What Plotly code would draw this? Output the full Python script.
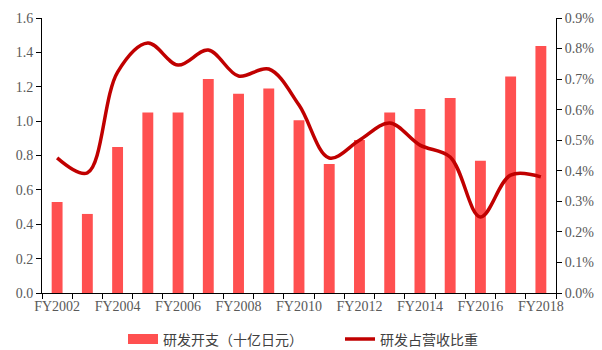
import plotly.graph_objects as go

years = ["FY2002", "FY2003", "FY2004", "FY2005", "FY2006", "FY2007", "FY2008", "FY2009",
         "FY2010", "FY2011", "FY2012", "FY2013", "FY2014", "FY2015", "FY2016", "FY2017", "FY2018"]
rd_spend = [0.53, 0.46, 0.85, 1.05, 1.05, 1.245, 1.16, 1.19,
            1.005, 0.75, 0.89, 1.05, 1.07, 1.135, 0.77, 1.26, 1.437]
rd_ratio = [0.442, 0.393, 0.723, 0.818, 0.746, 0.795, 0.71, 0.733,
            0.615, 0.442, 0.50, 0.556, 0.484, 0.445, 0.249, 0.386, 0.38]
left_ticks = [0.0, 0.2, 0.4, 0.6, 0.8, 1.0, 1.2, 1.4, 1.6]
right_ticks = [0.0, 0.1, 0.2, 0.3, 0.4, 0.5, 0.6, 0.7, 0.8, 0.9]

BAR_COLOR = "#FF5050"
LINE_COLOR = "#C00000"
tick_font = dict(family="Liberation Serif", size=14, color="#595959")

fig = go.Figure()
fig.add_trace(go.Bar(
    x=years, y=rd_spend, name="研发开支（十亿日元）", showlegend=False,
    marker=dict(color=BAR_COLOR, line=dict(width=0)), width=0.36,
))
# legend key for the bars: a wide flat swatch
fig.add_trace(go.Scatter(
    x=[None], y=[None], name="研发开支（十亿日元）", mode="lines",
    line=dict(color=BAR_COLOR, width=10), hoverinfo="skip",
))
fig.add_trace(go.Scatter(
    x=years, y=rd_ratio, name="研发占营收比重", yaxis="y2", mode="lines",
    line=dict(color=LINE_COLOR, width=3.5, shape="spline", smoothing=1.0),
))

fig.update_layout(
    width=602, height=350,
    margin=dict(l=42, r=46, t=18, b=57, autoexpand=False),
    paper_bgcolor="white", plot_bgcolor="white",
    showlegend=True,
    legend=dict(orientation="h", x=123 / 602, xanchor="left", xref="container",
                y=0.03, yanchor="middle", yref="container",
                font=dict(family="Noto Sans CJK SC", size=14, color="#404040"),
                itemwidth=30, entrywidth=172, tracegroupgap=0),
    xaxis=dict(
        type="category", tickson="boundaries", tickvals=years,
        ticktext=[y if i % 2 == 0 else "" for i, y in enumerate(years)],
        ticks="outside", ticklen=5, tickcolor="#000", showline=True, linecolor="#000",
        linewidth=1, tickfont=tick_font, tickangle=0, showgrid=False,
        range=[-0.5, len(years) - 0.5], automargin=False,
    ),
    yaxis=dict(
        range=[0, 1.6], tickvals=left_ticks, ticktext=[f"{v:.1f}" for v in left_ticks],
        ticks="outside", ticklen=5, tickcolor="#000", showline=True, linecolor="#000",
        linewidth=1, tickfont=tick_font, showgrid=False, zeroline=False, automargin=False,
    ),
    yaxis2=dict(
        range=[0, 0.9], tickvals=right_ticks, ticktext=[f"{v:.1f}%" for v in right_ticks],
        overlaying="y", side="right",
        ticks="outside", ticklen=5, tickcolor="#000", showline=True, linecolor="#000",
        linewidth=1, tickfont=tick_font, showgrid=False, zeroline=False, automargin=False,
    ),
)

fig.write_html("out.html")
